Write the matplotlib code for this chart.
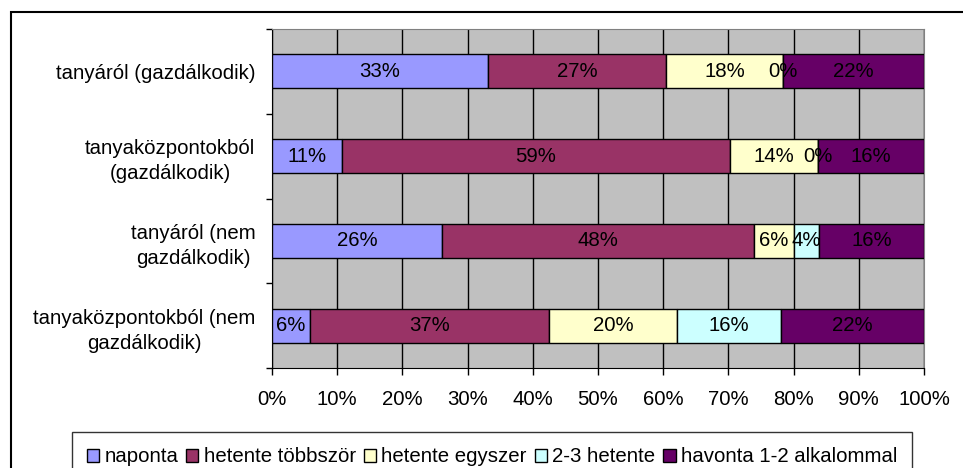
import matplotlib
matplotlib.use("Agg")
import matplotlib.pyplot as plt
from matplotlib.patches import Rectangle
import numpy as np

plt.rcParams["font.family"] = ["Liberation Sans", "DejaVu Sans"]
plt.rcParams["font.size"] = 14.7

# rows, top to bottom
categories = [
    "tanyáról (gazdálkodik)",
    "tanyaközpontokból\n(gazdálkodik)",
    "tanyáról (nem\ngazdálkodik)",
    "tanyaközpontokból (nem\ngazdálkodik)",
]
series = ["naponta", "hetente többször", "hetente egyszer",
          "2-3 hetente", "havonta 1-2 alkalommal"]
naponta = [33.1, 10.8, 26.1, 5.8]
hetente_tobbszor = [27.4, 59.4, 47.9, 36.7]
hetente_egyszer = [17.9, 13.6, 6.0, 19.6]
ketharom_hetente = [0.0, 0.0, 3.9, 16.0]
havonta = [21.6, 16.2, 16.1, 21.9]
colors = ["#9999FF", "#993366", "#FFFFCC", "#CCFFFF", "#660066"]

values = [naponta, hetente_tobbszor, hetente_egyszer, ketharom_hetente, havonta]

fig = plt.figure(figsize=(9.63, 4.68), dpi=100)
ax = fig.add_axes([272 / 963, 1 - 368 / 468, 652 / 963, 339 / 468])
ax.set_facecolor("#C0C0C0")

y = np.arange(len(categories))
left = np.zeros(len(categories))
for name, vals, col in zip(series, values, colors):
    vals = np.asarray(vals)
    ax.barh(y, vals, left=left, height=0.4, color=col, edgecolor="black",
            linewidth=1, label=name, zorder=3)
    for yi, l, v in zip(y, left, vals):
        ax.text(l + v / 2, yi, f"{v:.0f}%", ha="center", va="center", zorder=4)
    left += vals

ax.set_xlim(0, 100)
ax.set_ylim(len(categories) - 0.5, -0.5)
ax.set_xticks(np.arange(0, 101, 10))
ax.set_xticklabels([f"{t}%" for t in range(0, 101, 10)])
ax.xaxis.grid(True, color="black", linewidth=1, zorder=1)
ax.set_axisbelow(True)
ax.tick_params(axis="x", length=5, width=1, pad=11, colors="black")

ax.set_yticks(y)
ax.set_yticklabels(categories, ha="right", multialignment="center",
                   linespacing=1.4)
ax.set_yticks(np.arange(-0.5, len(categories)), minor=True)
ax.tick_params(axis="y", which="major", length=0, pad=12)
ax.tick_params(axis="y", which="minor", length=4.5, width=1)

for s in ["top", "right"]:
    ax.spines[s].set_color("#808080")
for s in ["left", "bottom"]:
    ax.spines[s].set_color("black")

handles, labels = ax.get_legend_handles_labels()
leg = fig.legend(handles, labels, loc="center", ncol=5,
                 bbox_to_anchor=(492 / 963, 1 - 457 / 468),
                 frameon=True, fancybox=False, edgecolor="black",
                 handlelength=0.6, handleheight=0.6, handletextpad=0.25,
                 columnspacing=0.4, borderpad=0.75, borderaxespad=0)
leg.get_frame().set_linewidth(1)

fig.patches.append(Rectangle((11 / 963, -0.1), 1.0, 1 - 12 / 468 + 0.1,
                             transform=fig.transFigure, fill=False,
                             edgecolor="black", linewidth=1.5))

fig.savefig("out.png", dpi=100)
